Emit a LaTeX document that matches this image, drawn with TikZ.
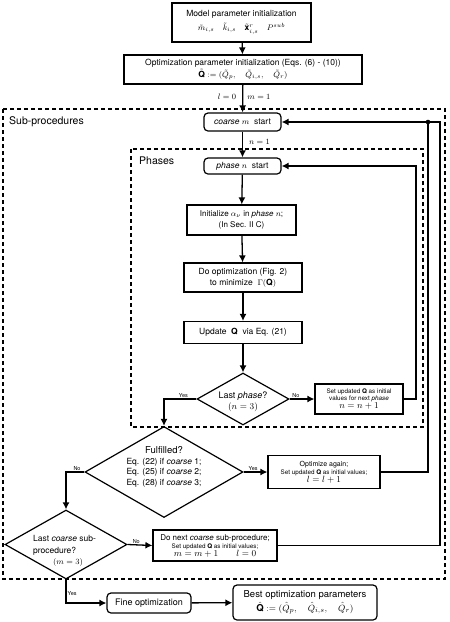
\documentclass[tikz,border=0pt]{standalone}
\usepackage{amsmath,amssymb}
\usepackage{fontspec}
\setmainfont{TeX Gyre Heros}
\usepackage{tikz}
\usetikzlibrary{shapes.geometric, arrows.meta, calc, positioning}

\begin{document}
\begin{tikzpicture}[x=1pt, y=-1pt, >={Latex[length=7pt,width=7pt]}]
        % Define the styles
        \tikzstyle{box}=[draw, rectangle, line width=1.2pt, inner sep=1pt, align=center, font=\fontsize{8.5}{10}\selectfont]
        \tikzstyle{rbox}=[box, rounded corners=4pt]
        \tikzstyle{dia}=[draw, diamond, line width=1.2pt, inner sep=0pt]
        \tikzstyle{txt}=[inner sep=0pt, align=center, font=\fontsize{8.5}{11}\selectfont]
        \tikzstyle{tiny}=[inner sep=1pt, font=\fontsize{5.5}{6}\selectfont]
        \tikzstyle{frame}=[line width=1.3pt, dash pattern=on 4pt off 3pt]
        \tikzstyle{line}=[line width=1.3pt]

        \useasboundingbox (0,0) rectangle (450,622);

        % Dashed frames
        \draw[frame] (3,109) rectangle (445,579);
        \draw[frame] (131,149) rectangle (423,427);
        \node[anchor=west, inner sep=0pt, font=\fontsize{10.5}{12}\selectfont] (subproc) at (9,122) {Sub-procedures};
        \node[anchor=west, inner sep=0pt, font=\fontsize{10.5}{12}\selectfont] (phases) at (139,161) {Phases};

        % Initialization
        \node[box, minimum width=139, minimum height=39, font=\fontsize{8.5}{14}\selectfont] (model) at (241.5,22.5)
            {Model parameter initialization\\
             $\tilde{m}_{i,s}\quad \tilde{k}_{i,s}\quad \tilde{\mathbf{x}}^{r}_{i,s}\quad P^{sub}$};
        \node[box, minimum width=238, minimum height=29, font=\fontsize{8.5}{12.5}\selectfont] (optinit) at (243,69.5)
            {Optimization parameter initialization (Eqs. (6) - (10))\\
             $\tilde{\mathbf{Q}} := (\tilde{Q}_{p},\quad \tilde{Q}_{i,s},\quad \tilde{Q}_{r})$};

        % Coarse and phase loop
        \node[rbox, minimum width=77, minimum height=18] (coarse) at (242.5,122) {\emph{coarse} $m$ \ start};
        \node[rbox, minimum width=77, minimum height=16] (phase) at (242.5,166) {\emph{phase} $n$ \ start};
        \node[box, minimum width=109, minimum height=30, font=\fontsize{8}{10.5}\selectfont] (init) at (241.5,220)
            {Initialize $\alpha_{\nu}$ in \emph{phase} $n$;\\(In Sec. II C)};
        \node[box, minimum width=118, minimum height=29, font=\fontsize{8.5}{11}\selectfont] (doopt) at (243,277.5)
            {Do optimization (Fig. 2)\\to minimize \ $\Gamma(\mathbf{Q})$};
        \node[box, minimum width=118, minimum height=22] (update) at (243,332.5)
            {Update \ $\mathbf{Q}$ \ via Eq. (21)};

        \node[dia, minimum width=92, minimum height=52] (lastphase) at (243,399) {};
        \node[txt, font=\fontsize{9}{11.5}\selectfont] (lastphase-t) at (243,402) {Last \emph{phase}?\\$(n=3)$};
        \node[box, minimum width=88, minimum height=30, font=\fontsize{6.3}{7.8}\selectfont] (nextphase) at (359,399)
            {Set updated $\mathbf{Q}$ as initial\\values for next \emph{phase}\\{\fontsize{9}{9}\selectfont$n=n+1$}};

        % Convergence check
        \node[dia, minimum width=158, minimum height=91] (fulfilled) at (164,472) {};
        \node[txt, font=\fontsize{8.5}{10.5}\selectfont] (fulfilled-t) at (164,467)
            {{\fontsize{9.5}{11}\selectfont Fulfilled?}\\Eq. (22) if \emph{coarse} 1;\\Eq. (25) if \emph{coarse} 2;\\Eq. (28) if \emph{coarse} 3;};
        \node[box, minimum width=112, minimum height=33, font=\fontsize{6.3}{8}\selectfont] (again) at (324,472)
            {{\fontsize{7}{8}\selectfont Optimize again;}\\Set updated $\mathbf{Q}$ as initial values;\\{\fontsize{9}{9}\selectfont$l=l+1$}};

        \node[dia, minimum width=122, minimum height=69] (lastcoarse) at (66,544.5) {};
        \node[txt, align=left, font=\fontsize{8.5}{11.5}\selectfont] (lastcoarse-t) at (64.5,551)
            {Last \emph{coarse} sub-\\procedure?\\\hspace*{20pt}$(m=3)$};
        \node[box, minimum width=124, minimum height=31, font=\fontsize{6.3}{8}\selectfont] (nextcoarse) at (215,545.5)
            {{\fontsize{8}{9}\selectfont Do next \emph{coarse} sub-procedure;}\\Set updated $\mathbf{Q}$ as initial values;\\{\fontsize{9}{9}\selectfont$m=m+1\qquad l=0$}};

        % Final stage
        \node[rbox, minimum width=84, minimum height=20, font=\fontsize{9}{10}\selectfont] (fine) at (149,603) {Fine optimization};
        \node[rbox, minimum width=144, minimum height=35, font=\fontsize{9.5}{13.5}\selectfont] (best) at (305,602.5)
            {Best optimization parameters\\
             $\hat{\mathbf{Q}} := (\hat{Q}_{p},\quad \hat{Q}_{i,s},\quad \hat{Q}_{r})$};

        % Junction points
        \coordinate (dot) at (428,122);
        \coordinate (loopc) at (440,122);

        % Straight arrows
        \draw[line, ->] (model) -- (optinit);
        \draw[line, ->] (optinit) -- (coarse)
            node[pos=0.45, left, txt, xshift=-6pt] (l0) {$l=0$}
            node[pos=0.45, right, txt, xshift=4pt] (m1) {$m=1$};
        \draw[line, ->] (coarse) -- (phase) node[pos=0.4, right, txt, xshift=6pt] (n1) {$n=1$};
        \draw[line, ->] (phase) -- (init);
        \draw[line, ->] (init) -- (doopt);
        \draw[line, ->] (doopt) -- (update);
        \draw[line, ->] (update) -- (lastphase);

        % Phase loop
        \draw[line, ->] (lastphase.east) -- (nextphase.west) node[tiny, pos=0.25, above] (no1) {No};
        \draw[line, ->] (nextphase.east) -| (416,166) -- (phase.east);
        \draw[line, ->] (lastphase.west) -| (fulfilled.north) node[tiny, pos=0.2, above] (yes1) {Yes};

        % Coarse loop
        \draw[line, ->] (fulfilled.east) -- (again.west) node[tiny, pos=0.4, above] (yes2) {Yes};
        \draw[line, ->] (again.east) -| (dot) -- (coarse.east);
        \draw[line, ->] (fulfilled.west) -| (lastcoarse.north) node[tiny, pos=0.2, above] (no2) {No};
        \draw[line, ->] (lastcoarse.east) -- (nextcoarse.west) node[tiny, pos=0.35, above] (no3) {No};
        \draw[line] (nextcoarse.east) -| (loopc) -- (dot);
        \fill (dot) circle (2.3pt);

        % Fine stage
        \draw[line, ->] (lastcoarse.south) |- (fine.west) node[tiny, pos=0.3, right] (yes3) {Yes};
        \draw[line, ->] (fine) -- (best);
    \end{tikzpicture}
\end{document}
